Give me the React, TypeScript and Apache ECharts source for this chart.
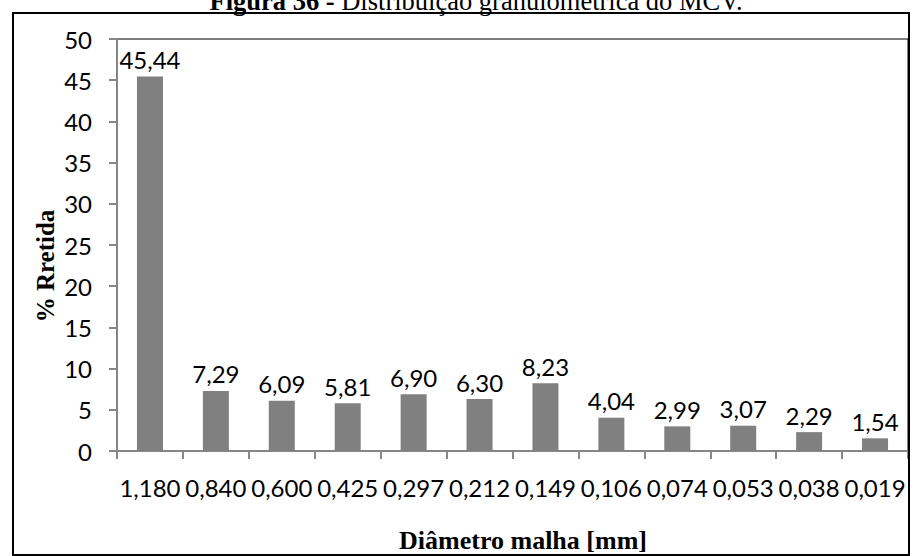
import React, { useEffect, useRef } from "react";
import * as echarts from "echarts";

const categories = ["1,180", "0,840", "0,600", "0,425", "0,297", "0,212", "0,149", "0,106", "0,074", "0,053", "0,038", "0,019"];
const retained = [45.44, 7.29, 6.09, 5.81, 6.9, 6.3, 8.23, 4.04, 2.99, 3.07, 2.29, 1.54];
const yTicks = { min: 0, max: 50, interval: 5 };
const titleBold = "Figura 36 -";
const titleRest = " Distribuição granulométrica do MCV.";
const xTitle = "Diâmetro malha [mm]";
const yTitle = "% Rretida";

const fmt = (v: number) => v.toFixed(2).replace(".", ",");

export default function App() {
  const ref = useRef<HTMLDivElement>(null);
  useEffect(() => {
    if (!ref.current) return;
    const chart = echarts.init(ref.current, null, { renderer: "svg" });
    const labelFont = "Lato, 'Open Sans', sans-serif";
    chart.setOption({
      animation: false,
      backgroundColor: "#ffffff",
      grid: {
        left: 117,
        right: 6,
        top: 39,
        bottom: 105,
        show: true,
        borderColor: "#000000",
        borderWidth: 1,
        backgroundColor: "transparent",
      },
      xAxis: {
        type: "category",
        data: categories,
        boundaryGap: true,
        axisLine: { show: true, lineStyle: { color: "#868686", width: 2 } },
        axisTick: { show: true, inside: false, length: 8, alignWithLabel: false, lineStyle: { color: "#868686", width: 2 } },
        axisLabel: { interval: 0, margin: 24, color: "#000", fontFamily: labelFont, fontSize: 24 },
        splitLine: { show: false },
      },
      yAxis: {
        type: "value",
        min: yTicks.min,
        max: yTicks.max,
        interval: yTicks.interval,
        axisLine: { show: true, lineStyle: { color: "#868686", width: 2 } },
        axisTick: { show: true, inside: false, length: 8, lineStyle: { color: "#868686", width: 2 } },
        axisLabel: { margin: 25, color: "#000", fontFamily: labelFont, fontSize: 24 },
        splitLine: { show: false },
      },
      series: [
        {
          type: "bar",
          data: retained,
          barWidth: 26,
          itemStyle: { color: "#808080" },
          label: {
            show: true,
            position: "top",
            distance: 5,
            color: "#000",
            fontFamily: labelFont,
            fontSize: 24,
            formatter: (p: any) => fmt(p.value),
          },
        },
      ],
      graphic: [
        {
          type: "rect",
          shape: { x: 13, y: 13, width: 896, height: 542 },
          style: { fill: "none", stroke: "#000", lineWidth: 2 },
          z: 100,
        },
        {
          type: "text",
          x: 476,
          y: -13,
          style: {
            text: "{b|" + titleBold + "}{n|" + titleRest + "}",
            align: "center",
            verticalAlign: "top",
            rich: {
              b: { fontFamily: "'Liberation Serif', serif", fontWeight: "bold", fontSize: 26.5, fill: "#000" },
              n: { fontFamily: "'Liberation Serif', serif", fontWeight: "normal", fontSize: 26.5, fill: "#000" },
            },
          },
        },
        {
          type: "text",
          x: 523,
          y: 540,
          style: {
            text: xTitle,
            align: "center",
            verticalAlign: "middle",
            fontFamily: "'Liberation Serif', serif",
            fontWeight: "bold",
            fontSize: 26,
            fill: "#000",
          },
        },
        {
          type: "text",
          x: 45,
          y: 266,
          rotation: Math.PI / 2,
          style: {
            text: yTitle,
            align: "center",
            verticalAlign: "middle",
            fontFamily: "'Liberation Serif', serif",
            fontWeight: "bold",
            fontSize: 25,
            fill: "#000",
          },
        },
      ],
    });
    return () => chart.dispose();
  }, []);
  return <div ref={ref} style={{ position: "fixed", left: 0, top: 0, width: 914, height: 556 }} />;
}
